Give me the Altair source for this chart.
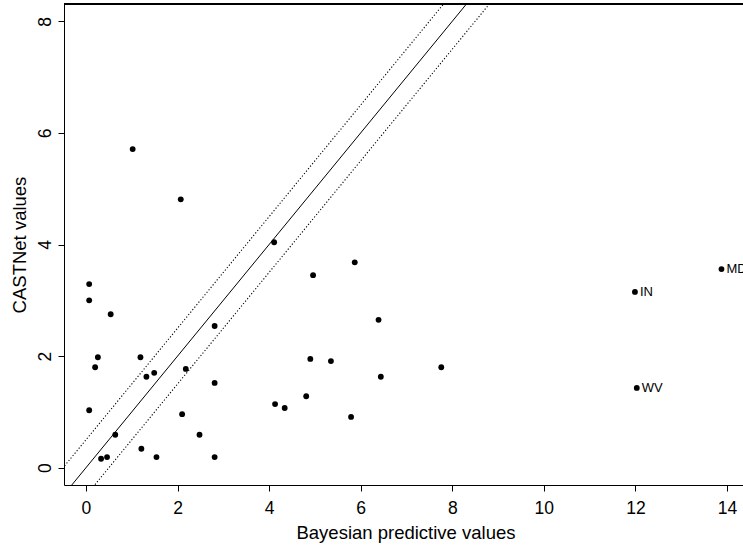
import altair as alt
import pandas as pd

# Data
bayes = [1.02, 2.07, 0.07, 0.07, 0.54, 2.81, 0.26, 1.19, 0.20, 1.32, 1.49, 2.18,
         2.81, 0.07, 2.10, 0.64, 2.48, 1.21, 0.33, 0.46, 1.54, 2.81, 4.11, 5.87,
         4.96, 6.39, 4.90, 5.35, 7.76, 6.44, 4.81, 4.13, 4.34, 5.79, 13.88, 11.99, 12.03]
castnet = [5.71, 4.81, 3.29, 3.00, 2.75, 2.54, 1.98, 1.98, 1.80, 1.63, 1.70, 1.77,
           1.52, 1.03, 0.96, 0.59, 0.59, 0.34, 0.16, 0.19, 0.19, 0.19, 4.04, 3.68,
           3.45, 2.65, 1.95, 1.91, 1.80, 1.63, 1.28, 1.14, 1.07, 0.91, 3.56, 3.15, 1.43]
state = [""] * 34 + ["MD", "IN", "WV"]

x_ticks = [0, 2, 4, 6, 8, 10, 12, 14]
y_ticks = [0, 2, 4, 6, 8]
x_domain = [-0.48, 14.35]
y_domain = [-0.31, 8.31]

# reference lines y = x + b
center_intercept = [0.0]
band_intercepts = [0.5, -0.5]
line_x_ends = [-1.0, 16.0]

W, H = 679, 481
FONT = "Liberation Sans"

pts = pd.DataFrame({"bayes": bayes, "castnet": castnet, "state": state})
lab = pts[pts["state"] != ""]

def line_df(intercepts):
    rows = []
    for i, b in enumerate(intercepts):
        for xv in line_x_ends:
            rows.append({"id": i, "x": xv, "y": xv + b})
    return pd.DataFrame(rows)

xs = alt.Scale(domain=x_domain, nice=False, zero=False)
ys = alt.Scale(domain=y_domain, nice=False, zero=False)

xaxis = alt.Axis(values=x_ticks, format="d", grid=False, domain=True, domainColor="black",
                 tickColor="black", tickSize=6, labelFont=FONT, labelFontSize=17.5,
                 labelColor="black", labelBaseline="alphabetic", labelPadding=22,
                 labelFlush=False, title="Bayesian predictive values", titleFont=FONT,
                 titleFontSize=18.5, titleFontWeight="normal", titleColor="black",
                 titleBaseline="alphabetic", titleY=53, titleX=W / 2 + 2)
yaxis = alt.Axis(values=y_ticks, format="d", grid=False, domain=True, domainColor="black",
                 tickColor="black", tickSize=6, labelFont=FONT, labelFontSize=17.5,
                 labelColor="black", labelAngle=270, labelAlign="center",
                 labelBaseline="alphabetic", labelPadding=8, labelFlush=False,
                 title="CASTNet values", titleFont=FONT, titleFontSize=18.5,
                 titleFontWeight="normal", titleColor="black", titleAngle=270,
                 titleAlign="center", titleBaseline="alphabetic", titleX=-39, titleY=H / 2)

points = alt.Chart(pts).mark_circle(size=34, color="black", opacity=1).encode(
    x=alt.X("bayes:Q", scale=xs, axis=xaxis),
    y=alt.Y("castnet:Q", scale=ys, axis=yaxis),
)

solid = alt.Chart(line_df(center_intercept)).mark_line(
    color="black", strokeWidth=1, clip=True).encode(
    x=alt.X("x:Q", scale=xs), y=alt.Y("y:Q", scale=ys), detail="id:N")

dotted = alt.Chart(line_df(band_intercepts)).mark_line(
    color="black", strokeWidth=1.1, strokeDash=[1.2, 2], clip=True).encode(
    x=alt.X("x:Q", scale=xs), y=alt.Y("y:Q", scale=ys), detail="id:N")

labels = alt.Chart(lab).mark_text(
    align="left", baseline="middle", dx=5, font=FONT, fontSize=13, color="black").encode(
    x=alt.X("bayes:Q", scale=xs), y=alt.Y("castnet:Q", scale=ys), text="state:N")

top_border = alt.Chart(pts).mark_rule(color="black", strokeWidth=1).encode(
    x=alt.value(0), x2=alt.value(W), y=alt.value(0))

chart = alt.layer(dotted, solid, points, labels, top_border).properties(
    width=W, height=H,
    autosize=alt.AutoSizeParams(type="none"),
    padding={"left": 64, "top": 4, "right": 0, "bottom": 63},
    background="white",
).configure_view(stroke=None)

chart.save("out.html", embed_options={"renderer": "svg", "actions": False})
